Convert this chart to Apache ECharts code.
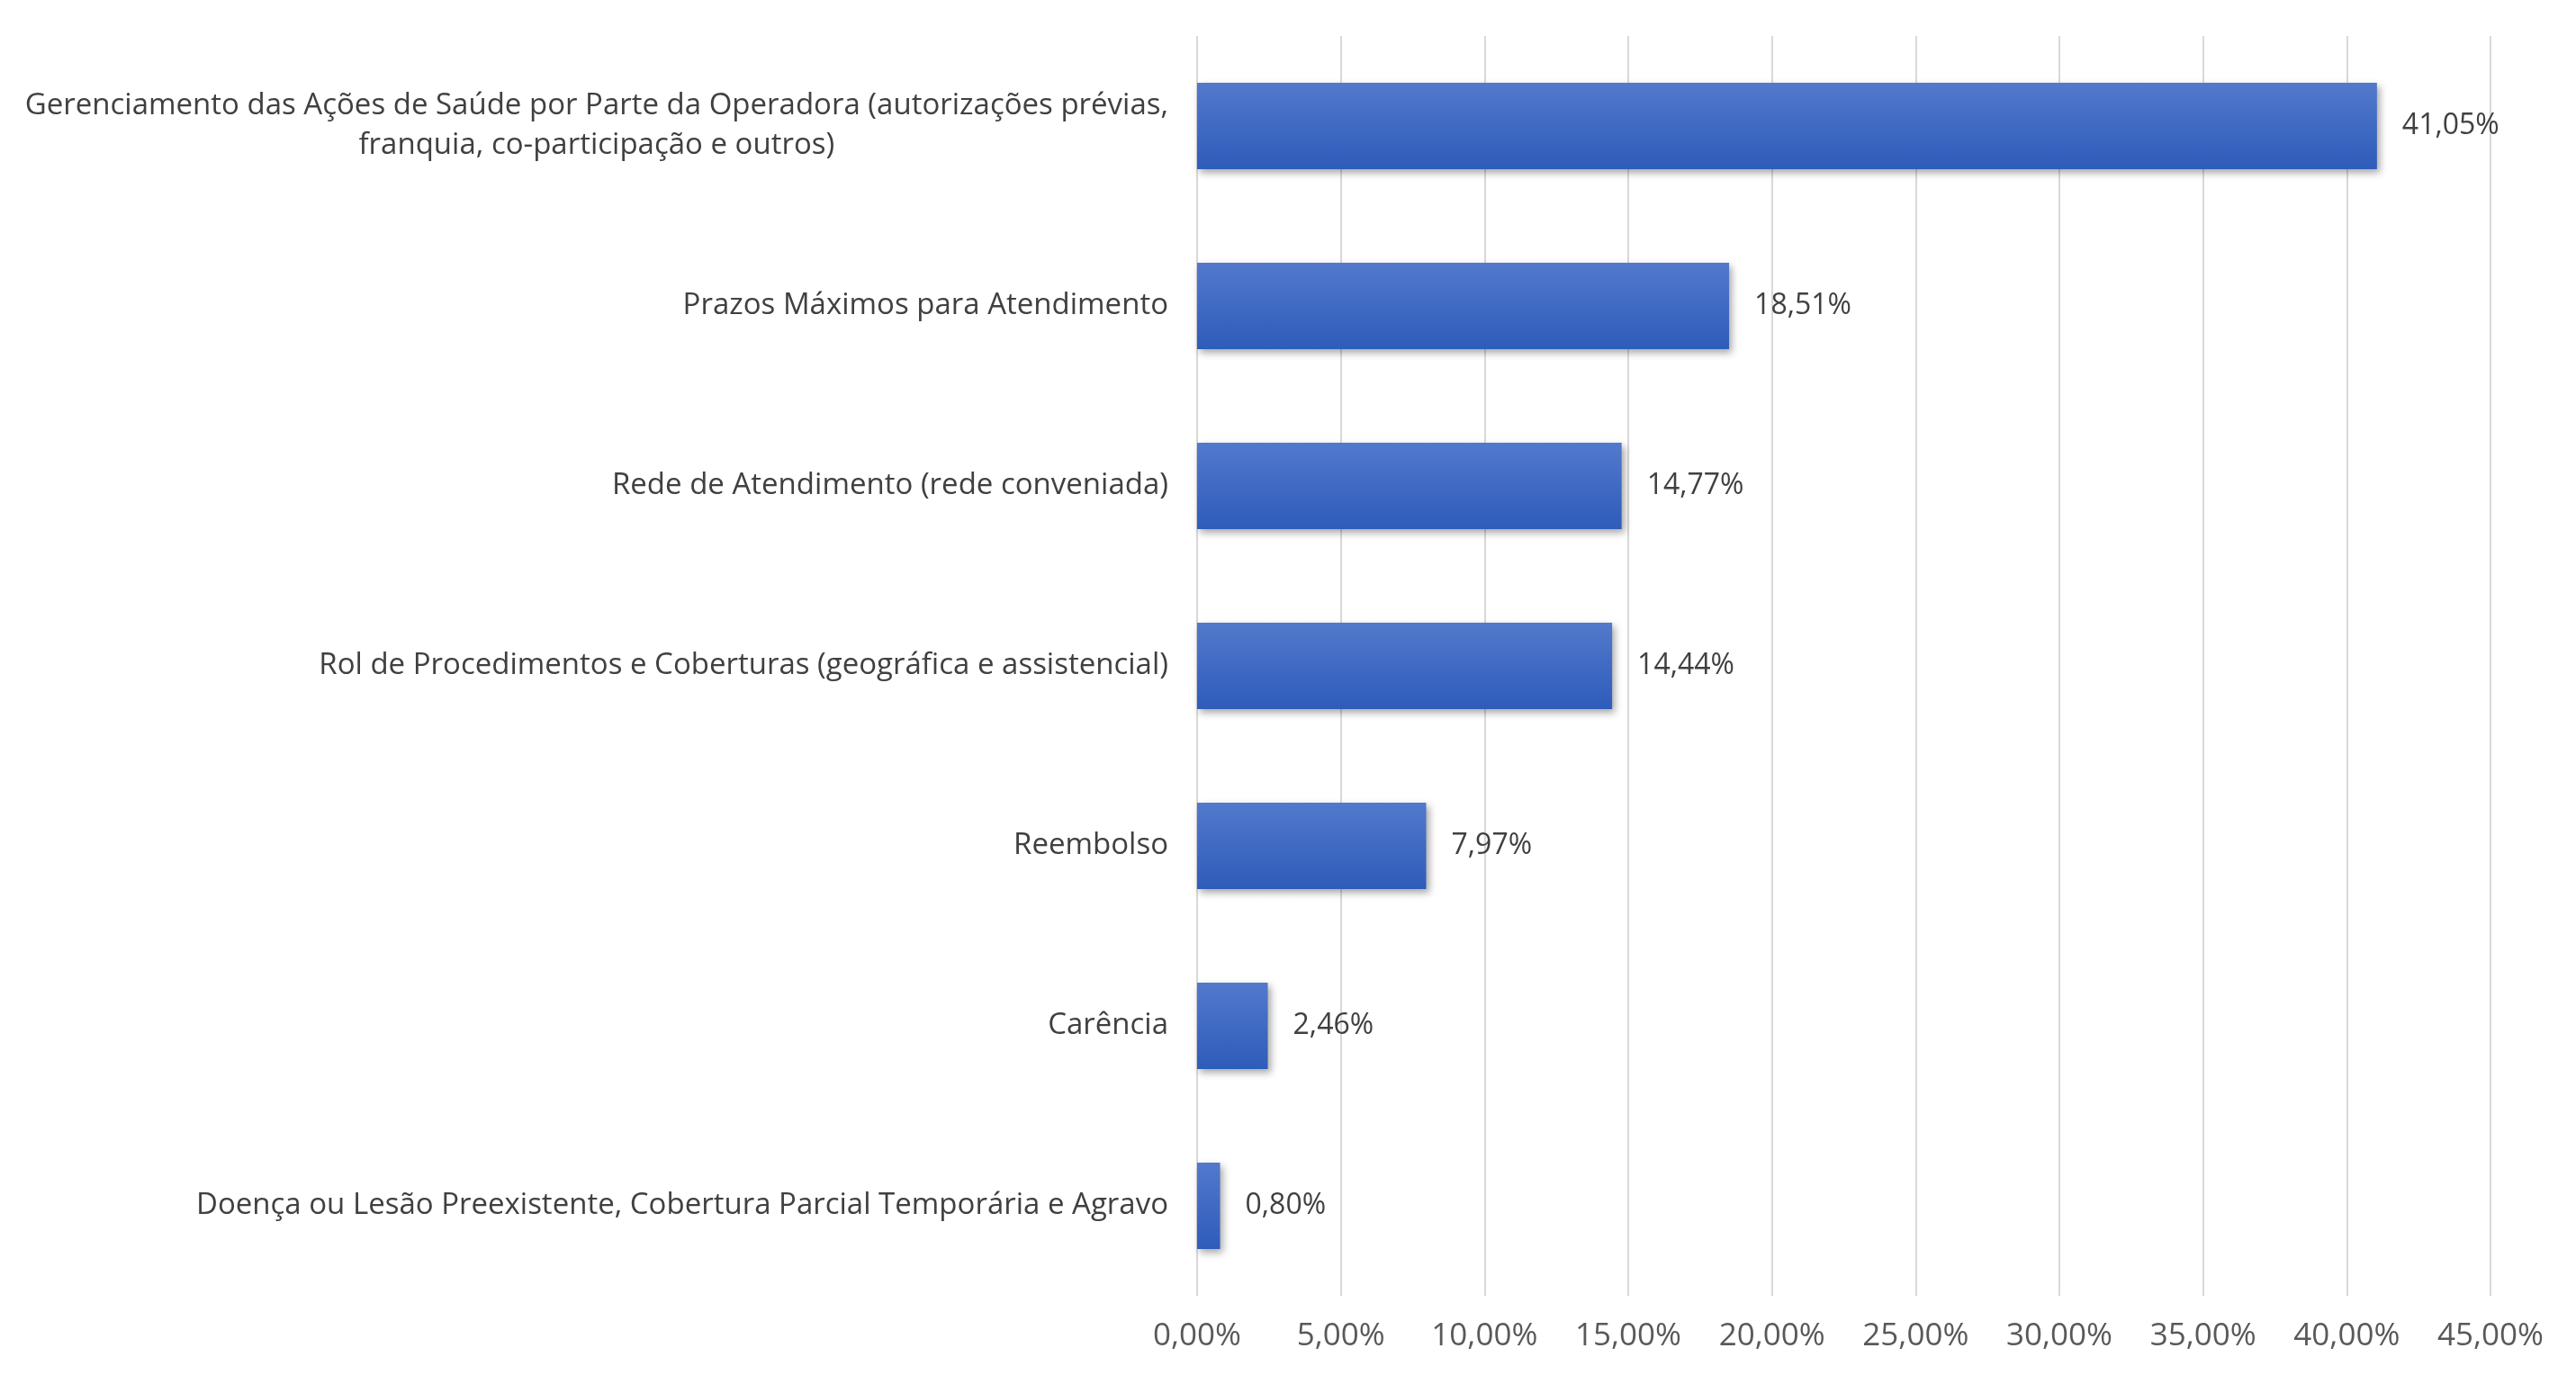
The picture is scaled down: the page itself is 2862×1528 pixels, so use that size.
<!DOCTYPE html>
<html>
<head>
<meta charset="utf-8">
<script src="https://cdn.jsdelivr.net/npm/echarts@6/dist/echarts.min.js"></script>
<style>
html,body{margin:0;padding:0;background:#fff;}
#chart{width:2862px;height:1528px;}
</style>
</head>
<body>
<div id="chart"></div>
<script>
const categories = [
  "Gerenciamento das Ações de Saúde por Parte da Operadora (autorizações prévias,\nfranquia, co-participação e outros)",
  "Prazos Máximos para Atendimento",
  "Rede de Atendimento (rede conveniada)",
  "Rol de Procedimentos e Coberturas (geográfica e assistencial)",
  "Reembolso",
  "Carência",
  "Doença ou Lesão Preexistente, Cobertura Parcial Temporária e Agravo"
];
const values = [41.05, 18.51, 14.77, 14.44, 7.97, 2.46, 0.80];
const axisMin = 0, axisMax = 45, axisInterval = 5;

const FONT = '"Open Sans", sans-serif';
const fmt = v => v.toFixed(2).replace('.', ',') + '%';

const chart = echarts.init(document.getElementById('chart'));
chart.setOption({
  backgroundColor: '#ffffff',
  animation: false,
  grid: { left: 1330, right: 95, top: 40, bottom: 88, containLabel: false },
  xAxis: {
    type: 'value', min: axisMin, max: axisMax, interval: axisInterval,
    axisLine: { show: false }, axisTick: { show: false },
    splitLine: { show: true, lineStyle: { color: '#d9d9d9', width: 2 } },
    axisLabel: { formatter: fmt, color: '#595959', fontSize: 35, fontFamily: FONT, margin: 28 }
  },
  yAxis: {
    type: 'category', data: categories, inverse: true,
    axisLine: { show: false }, axisTick: { show: false },
    axisLabel: {
      margin: 32, color: '#404040', fontSize: 33, fontFamily: FONT, lineHeight: 44,
      formatter: v => v.split('\n').map(l => '{c|' + l + '}').join('\n'),
      rich: { c: { align: 'center', fontSize: 33, fontFamily: FONT, color: '#404040', lineHeight: 44 } }
    }
  },
  series: [{
    type: 'bar', data: values, barCategoryGap: '52%',
    itemStyle: {
      color: new echarts.graphic.LinearGradient(0, 0, 0, 1, [
        { offset: 0, color: '#5279cc' },
        { offset: 1, color: '#2e5cba' }
      ]),
      shadowColor: 'rgba(0,0,0,0.35)', shadowBlur: 8, shadowOffsetX: 3, shadowOffsetY: 4
    },
    label: {
      show: true, position: 'right', distance: 28,
      formatter: p => fmt(p.value), color: '#404040', fontSize: 32, fontFamily: FONT
    }
  }]
});
</script>
</body>
</html>
